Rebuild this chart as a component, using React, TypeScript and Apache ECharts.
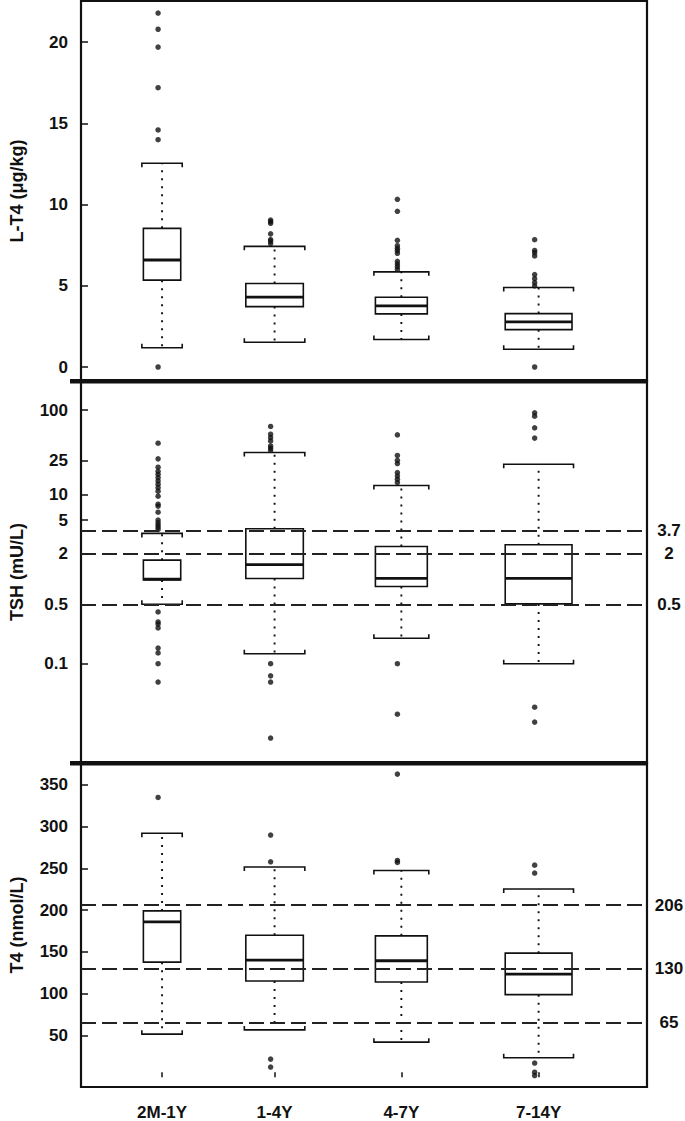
import React, { useEffect, useRef } from 'react';
import * as echarts from 'echarts';

// ---------- data ----------
const categories = ['2M-1Y', '1-4Y', '4-7Y', '7-14Y'];

// L-T4 (µg/kg)
const ltWhiskLow = [1.19, 1.52, 1.69, 1.09];
const ltQ1 = [5.35, 3.72, 3.27, 2.3];
const ltMedian = [6.59, 4.3, 3.77, 2.78];
const ltQ3 = [8.54, 5.14, 4.3, 3.29];
const ltWhiskHigh = [12.55, 7.43, 5.86, 4.9];
const ltOutliers = [
  [21.8, 20.8, 19.7, 17.2, 14.6, 14.0, 0.0],
  [9.05, 8.95, 8.85, 8.2, 7.85, 7.75, 7.6],
  [10.33, 9.59, 7.8, 7.47, 7.31, 7.16, 7.0, 6.51, 6.34, 6.18, 6.01],
  [7.84, 7.18, 7.04, 6.84, 5.69, 5.44, 5.2, 4.99, 0.0],
];
const ltTicks = [0, 5, 10, 15, 20];

// TSH (mU/L)
const tshWhiskLow = [0.505, 0.131, 0.2, 0.1];
const tshQ1 = [0.98, 1.02, 0.82, 0.51];
const tshMedian = [1.0, 1.49, 1.02, 1.02];
const tshQ3 = [1.68, 3.95, 2.44, 2.55];
const tshWhiskHigh = [3.48, 31.5, 12.8, 22.9];
const tshOutliers = [
  [40.6, 26.5, 21.1, 18.9, 17.4, 15.9, 14.5, 13.3, 12.1, 11.0, 9.6, 7.7, 7.3, 6.2, 5.0, 4.66, 4.36, 4.13, 3.88,
    0.41, 0.312, 0.295, 0.265, 0.153, 0.134, 0.1, 0.0607],
  [64.1, 51.9, 47.3, 43.2, 37.7, 35.5, 33.6, 0.1, 0.072, 0.0607, 0.0132],
  [50.9, 29.1, 25.5, 23.3, 18.2, 16.6, 15.2, 13.9, 0.1, 0.0253],
  [92.9, 84.8, 61.7, 46.6, 0.0306, 0.0204],
];
const tshTicks = [0.1, 0.5, 2, 5, 10, 25, 100];
const tshRefs = [3.7, 2, 0.5];

// T4 (nmol/L)
const t4WhiskLow = [51.6, 56.7, 42, 23.3];
const t4Q1 = [137.8, 115.2, 114, 98.9];
const t4Median = [186, 140.2, 139.5, 123.5];
const t4Q3 = [199.2, 170, 169.3, 148.6];
const t4WhiskHigh = [292.2, 251.7, 247.6, 225.4];
const t4Outliers = [
  [335],
  [290, 258, 21.7, 12.2],
  [363, 259.6, 257.2],
  [254, 244.5, 17, 6, 2],
];
const t4Ticks = [50, 100, 150, 200, 250, 300, 350];
const t4Refs = [206, 130, 65];

// ---------- layout ----------
const categoryPositions = [0.1432, 0.342, 0.566, 0.8085];
const boxWidths = [0.066, 0.1016, 0.0917, 0.118];
const OUTLIER_SHIFT = -0.007;

const FONT = "'Liberation Sans', Arial, Helvetica, sans-serif";
const INK = '#111';

const rows = (lo: number[], q1: number[], md: number[], q3: number[], hi: number[], f = (v: number) => v) =>
  categories.map((_, i) => [categoryPositions[i], f(lo[i]), f(q1[i]), f(md[i]), f(q3[i]), f(hi[i]), boxWidths[i]]);

const outlierPoints = (outs: number[][], f = (v: number) => v) =>
  outs.flatMap((arr, i) => arr.map((v) => [categoryPositions[i] + OUTLIER_SHIFT, f(v)]));

const renderBox = (_params: any, api: any) => {
  const x = api.value(0);
  const w = api.value(6);
  const pLow = api.coord([x, api.value(1)]);
  const pQ1 = api.coord([x, api.value(2)]);
  const pMed = api.coord([x, api.value(3)]);
  const pQ3 = api.coord([x, api.value(4)]);
  const pHigh = api.coord([x, api.value(5)]);
  const half = api.size([w, 0])[0] / 2;
  const cx = pMed[0];
  const capHalf = half + 1.5;
  const tick = 4;
  const thin = { stroke: INK, lineWidth: 1.6, fill: 'none' };
  const dotted = { stroke: INK, lineWidth: 1.9, lineDash: [2, 6] };
  return {
    type: 'group',
    children: [
      { type: 'line', shape: { x1: cx, y1: pQ3[1], x2: cx, y2: pHigh[1] }, style: dotted },
      { type: 'line', shape: { x1: cx, y1: pQ1[1], x2: cx, y2: pLow[1] }, style: dotted },
      {
        type: 'polyline',
        shape: { points: [[cx - capHalf, pHigh[1] + tick], [cx - capHalf, pHigh[1]], [cx + capHalf, pHigh[1]], [cx + capHalf, pHigh[1] + tick]] },
        style: thin,
      },
      {
        type: 'polyline',
        shape: { points: [[cx - capHalf, pLow[1] - tick], [cx - capHalf, pLow[1]], [cx + capHalf, pLow[1]], [cx + capHalf, pLow[1] - tick]] },
        style: thin,
      },
      {
        type: 'rect',
        shape: { x: cx - half, y: pQ3[1], width: 2 * half, height: pQ1[1] - pQ3[1] },
        style: { fill: 'none', stroke: INK, lineWidth: 1.6 },
      },
      { type: 'line', shape: { x1: cx - half, y1: pMed[1], x2: cx + half, y2: pMed[1] }, style: { stroke: INK, lineWidth: 2.8 } },
    ],
  };
};

const tickLabelStyle = { fontSize: 17, fontWeight: 'bold' as const, color: INK, fontFamily: FONT, margin: 13 };
const nameStyle = { fontSize: 18, fontWeight: 'bold' as const, color: INK, fontFamily: FONT };

const refMarkLine = (refs: number[], f = (v: number) => v) => ({
  silent: true,
  symbol: 'none',
  lineStyle: { type: [15, 6], color: '#222', width: 2 },
  label: {
    position: 'end',
    distance: 22,
    align: 'center',
    formatter: (p: any) => p.name,
    fontSize: 17,
    fontWeight: 'bold',
    color: INK,
    fontFamily: FONT,
  },
  data: refs.map((v) => ({ yAxis: f(v), name: String(v) })),
});

export default function App() {
  const ref = useRef<HTMLDivElement>(null);
  useEffect(() => {
    if (!ref.current) return;
    const chart = echarts.init(ref.current, null, { renderer: 'svg' });
    const log = (v: number) => Math.log10(v);
    const grids = [
      { left: 71, right: 38, top: 1, height: 380 },
      { left: 71, right: 38, top: 381, height: 382 },
      { left: 71, right: 38, top: 763, height: 326 },
    ].map((g) => ({ ...g, show: true, borderColor: INK, borderWidth: 2.2, backgroundColor: 'transparent', containLabel: false }));

    const hiddenX = (gi: number) => ({ gridIndex: gi, type: 'value', min: 0, max: 1, show: false });

    const option: any = {
      animation: false,
      backgroundColor: '#fff',
      grid: grids,
      graphic: [
        { type: 'rect', shape: { x: 70, y: 379, width: 578, height: 4.5 }, style: { fill: INK }, z: 100 },
        { type: 'rect', shape: { x: 70, y: 761, width: 578, height: 4.5 }, style: { fill: INK }, z: 100 },
      ],
      xAxis: [
        hiddenX(0),
        hiddenX(1),
        {
          gridIndex: 2,
          type: 'value',
          min: 0,
          max: 1,
          axisLine: { show: false },
          splitLine: { show: false },
          axisTick: { show: true, inside: true, length: 5, customValues: categoryPositions, lineStyle: { color: INK, width: 1.5 } },
          axisLabel: {
            ...tickLabelStyle,
            fontSize: 17,
            margin: 17,
            customValues: categoryPositions,
            formatter: (v: number) => {
              let best = 0;
              categoryPositions.forEach((p, i) => {
                if (Math.abs(p - v) < Math.abs(categoryPositions[best] - v)) best = i;
              });
              return categories[best];
            },
          },
        },
      ],
      yAxis: [
        {
          gridIndex: 0,
          type: 'value',
          min: -0.862,
          max: 22.54,
          name: 'L-T4 (μg/kg)',
          nameLocation: 'middle',
          nameGap: 55,
          nameTextStyle: nameStyle,
          axisLine: { show: false },
          splitLine: { show: false },
          axisTick: { show: true, inside: true, length: 7, customValues: ltTicks, lineStyle: { color: INK, width: 1.5 } },
          axisLabel: { ...tickLabelStyle, customValues: ltTicks },
        },
        {
          gridIndex: 1,
          type: 'value',
          min: -2.174,
          max: 2.344,
          name: 'TSH (mU/L)',
          nameLocation: 'middle',
          nameGap: 55,
          nameTextStyle: nameStyle,
          axisLine: { show: false },
          splitLine: { show: false },
          axisTick: { show: true, inside: true, length: 7, customValues: tshTicks.map(log), lineStyle: { color: INK, width: 1.5 } },
          axisLabel: {
            ...tickLabelStyle,
            customValues: tshTicks.map(log),
            formatter: (v: number) => String(Math.round(Math.pow(10, v) * 1000) / 1000),
          },
        },
        {
          gridIndex: 2,
          type: 'value',
          min: -11.7,
          max: 376.3,
          name: 'T4 (nmol/L)',
          nameLocation: 'middle',
          nameGap: 55,
          nameTextStyle: nameStyle,
          axisLine: { show: false },
          splitLine: { show: false },
          axisTick: { show: true, inside: true, length: 7, customValues: t4Ticks, lineStyle: { color: INK, width: 1.5 } },
          axisLabel: { ...tickLabelStyle, customValues: t4Ticks },
        },
      ],
      series: [
        {
          type: 'custom',
          xAxisIndex: 0,
          yAxisIndex: 0,
          renderItem: renderBox,
          encode: { x: 0, y: [1, 2, 3, 4, 5] },
          data: rows(ltWhiskLow, ltQ1, ltMedian, ltQ3, ltWhiskHigh),
        },
        {
          type: 'scatter',
          xAxisIndex: 0,
          yAxisIndex: 0,
          symbolSize: 5.5,
          itemStyle: { color: INK },
          data: outlierPoints(ltOutliers),
        },
        {
          type: 'custom',
          xAxisIndex: 1,
          yAxisIndex: 1,
          renderItem: renderBox,
          encode: { x: 0, y: [1, 2, 3, 4, 5] },
          data: rows(tshWhiskLow, tshQ1, tshMedian, tshQ3, tshWhiskHigh, log),
        },
        {
          type: 'scatter',
          xAxisIndex: 1,
          yAxisIndex: 1,
          symbolSize: 5.5,
          itemStyle: { color: INK },
          data: outlierPoints(tshOutliers, log),
          markLine: refMarkLine(tshRefs, log),
        },
        {
          type: 'custom',
          xAxisIndex: 2,
          yAxisIndex: 2,
          renderItem: renderBox,
          encode: { x: 0, y: [1, 2, 3, 4, 5] },
          data: rows(t4WhiskLow, t4Q1, t4Median, t4Q3, t4WhiskHigh),
        },
        {
          type: 'scatter',
          xAxisIndex: 2,
          yAxisIndex: 2,
          symbolSize: 5.5,
          itemStyle: { color: INK },
          data: outlierPoints(t4Outliers),
          markLine: refMarkLine(t4Refs),
        },
      ],
    };
    chart.setOption(option);
    return () => chart.dispose();
  }, []);
  return <div ref={ref} style={{ position: 'absolute', left: 0, top: 0, width: 685, height: 1121 }} />;
}
